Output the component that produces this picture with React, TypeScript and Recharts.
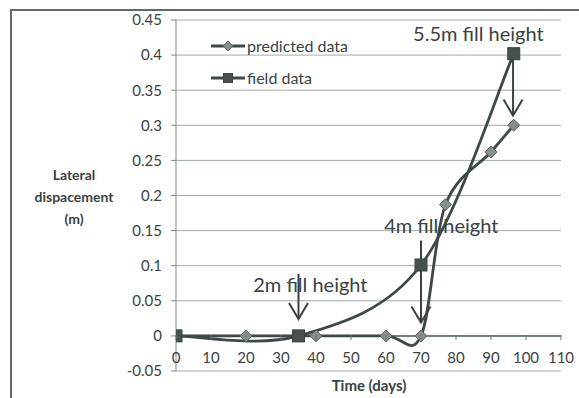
import React from 'react';
import {
  LineChart, Line, XAxis, YAxis, CartesianGrid, ReferenceLine, ReferenceDot, Legend,
} from 'recharts';

// ---- data ----
const predictedDays = [0, 20, 40, 60, 70, 77, 90, 96.5];
const predictedDisp = [0, 0, 0, 0, 0, 0.187, 0.262, 0.3];
const fieldDays = [0, 35, 70, 96.5];
const fieldDisp = [0, 0, 0.101, 0.402];
const xTicks = [0, 10, 20, 30, 40, 50, 60, 70, 80, 90, 100, 110];
const yTicks = [-0.05, 0, 0.05, 0.1, 0.15, 0.2, 0.25, 0.3, 0.35, 0.4, 0.45];
const seriesNames = ['predicted data', 'field data'];
const annotationTexts = ['2m fill height', '4m fill height', '5.5m fill height'];
const arrowDays = [35, 70, 96.3];
const arrowTop = [0.0886, 0.136, 0.397];
const arrowTip = [0.024, 0.019, 0.314];
const labelDays = [38.4, 75.8, 86.4];
const labelDisp = [0.063, 0.146, 0.42];

const predictedData = predictedDays.map((d, i) => ({ day: d, value: predictedDisp[i] }));
const fieldData = fieldDays.map((d, i) => ({ day: d, value: fieldDisp[i] }));

const FONT = 'Lato, "Open Sans", sans-serif';
const TEXT = '#3a4242';
const LINE = '#3e4848';

// Excel-like smoothed line (Catmull-Rom / Bezier)
const excelCurve = (context: any) => {
  let pts: number[][] = [];
  return {
    areaStart() {},
    areaEnd() {},
    lineStart() { pts = []; },
    lineEnd() {
      const n = pts.length;
      if (!n) return;
      context.moveTo(pts[0][0], pts[0][1]);
      const t = 1 / 6;
      for (let i = 0; i < n - 1; i++) {
        const p0 = pts[Math.max(i - 1, 0)];
        const p1 = pts[i];
        const p2 = pts[i + 1];
        const p3 = pts[Math.min(i + 2, n - 1)];
        context.bezierCurveTo(
          p1[0] + (p2[0] - p0[0]) * t, p1[1] + (p2[1] - p0[1]) * t,
          p2[0] - (p3[0] - p1[0]) * t, p2[1] - (p3[1] - p1[1]) * t,
          p2[0], p2[1],
        );
      }
    },
    point(x: number, y: number) { pts.push([+x, +y]); },
  };
};

const Diamond = (p: any) => {
  const { cx, cy } = p;
  if (cx == null || cy == null) return <g key={`dd-${p.index}`} />;
  const r = 6;
  return (
    <path key={`dd-${p.index}`} d={`M${cx},${cy - r}L${cx + r},${cy}L${cx},${cy + r}L${cx - r},${cy}Z`}
      fill="#878e8e" stroke="#5a6363" strokeWidth={1} />
  );
};
const Square = (p: any) => {
  const { cx, cy } = p;
  if (cx == null || cy == null) return <g key={`sq-${p.index}`} />;
  const s = 12;
  return <rect key={`sq-${p.index}`} x={cx - s / 2} y={cy - s / 2} width={s} height={s} fill="#485050" stroke="#3a4242" strokeWidth={1} />;
};

const XTick = (p: any) => {
  const { x, y, payload } = p;
  return (
    <g>
      <line x1={x} x2={x} y1={y - 36} y2={y - 31} stroke="#6a7272" strokeWidth={1} />
      <text x={x} y={y - 8} textAnchor="middle" fill={TEXT} fontSize={15} fontFamily={FONT}>{payload.value}</text>
    </g>
  );
};

const Arrow = (p: any) => {
  const { x1, y1, x2, y2 } = p;
  const hw = 9.5, hl = 16;
  return (
    <g>
      <line x1={x1} y1={y1} x2={x2} y2={y2} stroke="#3a4242" strokeWidth={2} />
      <polyline points={`${x2 - hw},${y2 - hl} ${x2},${y2} ${x2 + hw},${y2 - hl}`} fill="none" stroke="#3a4242" strokeWidth={2} />
    </g>
  );
};

const LegendContent = () => (
  <div style={{ fontFamily: FONT, fontSize: 16, color: TEXT }}>
    {seriesNames.map((name, i) => (
      <div key={name} style={{ display: 'flex', alignItems: 'center', height: 32, lineHeight: '16px' }}>
        <svg width={36} height={14} style={{ display: 'block' }}>
          <line x1={0} x2={34} y1={7} y2={7} stroke={LINE} strokeWidth={2.8} />
          {i === 0 ? (
            <path d="M17,2L22,7L17,12L12,7Z" fill="#878e8e" stroke="#5a6363" />
          ) : (
            <rect x={12.5} y={2.5} width={9} height={9} fill="#485050" stroke="#3a4242" />
          )}
        </svg>
        <span>{name}</span>
      </div>
    ))}
  </div>
);

const YLabel = () => (
  <text textAnchor="middle" fill={TEXT} fontSize={14} fontWeight="bold" fontFamily={FONT}>
    <tspan x={74} y={180}>Lateral</tspan>
    <tspan x={74} y={202}>dispacement</tspan>
    <tspan x={74} y={224}>(m)</tspan>
  </text>
);

const XLabel = () => (
  <text x={369} y={391} textAnchor="middle" fill={TEXT} fontSize={15} fontWeight="bold" fontFamily={FONT}>Time (days)</text>
);

export default function App() {
  return (
    <div style={{ position: 'absolute', left: 0, top: 0, width: 579, height: 398, background: '#fff' }}>
      <div style={{ position: 'absolute', left: 10, top: 9, right: 0, bottom: 0, borderTop: '2px solid #5f6969', borderLeft: '2px solid #5f6969' }} />
      <LineChart width={579} height={398} data={predictedData} margin={{ top: 20, right: 18, bottom: 0, left: 0 }}>
        <CartesianGrid vertical={false} stroke="#a3abab" strokeWidth={1} />
        <XAxis type="number" dataKey="day" domain={[0, 110]} ticks={xTicks} allowDataOverflow
          axisLine={false} tickLine={false} tickSize={0} tickMargin={0} height={27}
          tick={<XTick />} interval={0} label={<XLabel />} />
        <YAxis type="number" domain={[-0.05, 0.45]} ticks={yTicks} width={176} interval={0}
          axisLine={{ stroke: '#7d8585', strokeWidth: 1 }} tickLine={{ stroke: '#7d8585' }} tickSize={5} tickMargin={9}
          tick={{ fill: TEXT, fontSize: 15, fontFamily: FONT }} label={<YLabel />} />
        <ReferenceLine y={0} stroke="#5a6464" strokeWidth={1.5} />
        <Line data={predictedData} dataKey="value" type={excelCurve as any} stroke={LINE} strokeWidth={2.8}
          dot={Diamond} activeDot={false} isAnimationActive={false} name={seriesNames[0]} />
        <Line data={fieldData} dataKey="value" type={excelCurve as any} stroke={LINE} strokeWidth={2.8}
          dot={Square} activeDot={false} isAnimationActive={false} name={seriesNames[1]} />
        {arrowDays.map((d, i) => (
          <ReferenceLine key={`arr-${i}`} segment={[{ x: d, y: arrowTop[i] }, { x: d, y: arrowTip[i] }]} shape={Arrow} />
        ))}
        {annotationTexts.map((t, i) => (
          <ReferenceDot key={`lab-${i}`} x={labelDays[i]} y={labelDisp[i]} r={0}
            shape={(p: any) => (
              <text x={p.cx} y={p.cy} textAnchor="middle" fill={TEXT} fontSize={20} fontFamily={FONT}>{t}</text>
            )} />
        ))}
        <Legend layout="vertical" align="center" verticalAlign="middle" content={<LegendContent />}
          wrapperStyle={{ left: 211, top: 30, width: 160 }} />
      </LineChart>
    </div>
  );
}
